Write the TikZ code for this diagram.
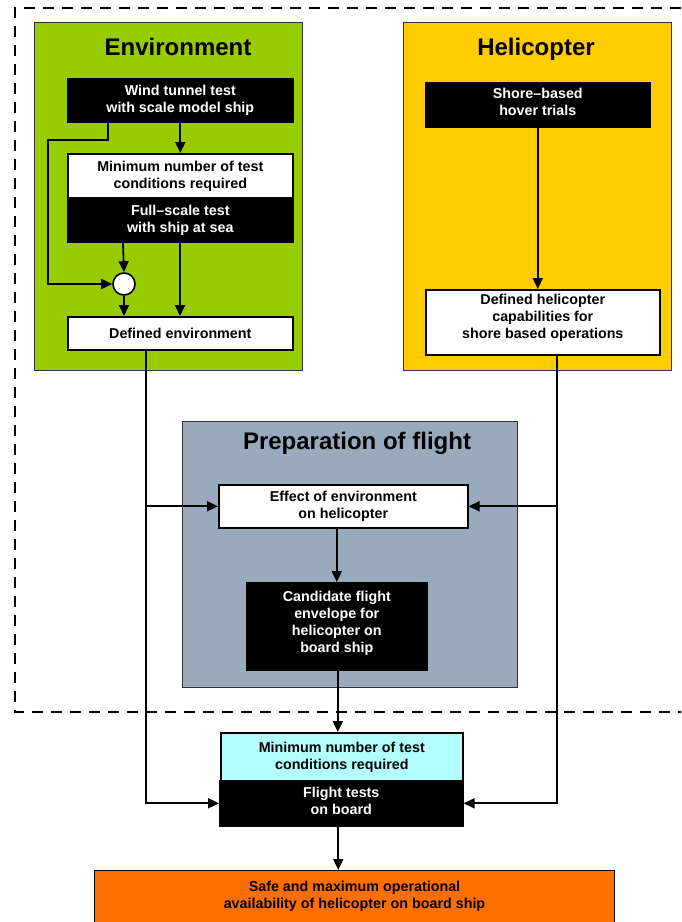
\documentclass[tikz,border=0pt]{standalone}
\usepackage{fontspec}
\setmainfont{Liberation Sans}
\usetikzlibrary{arrows.meta}
\definecolor{envgreen}{HTML}{99CC00}
\definecolor{heliyellow}{HTML}{FFCC00}
\definecolor{prepgray}{HTML}{98AABC}
\definecolor{cyanbox}{HTML}{B3FFFF}
\definecolor{orangebox}{HTML}{FF6F00}
\tikzset{
  area/.style={draw=black!80, line width=0.9pt, anchor=north west, inner sep=0pt},
  areatitle/.style={font=\fontsize{24}{28}\selectfont\bfseries, text=black, inner sep=0pt, anchor=base},
  wbox/.style={draw=black, fill=white, line width=1.6pt, anchor=north west, inner sep=0pt,
    align=center, font=\fontsize{14.3}{17}\selectfont\bfseries, text=black},
  bbox/.style={wbox, fill=black, text=white},
  arr/.style={line width=1.8pt, -{Triangle[length=11pt,width=10pt]}},
  frame/.style={line width=2.8pt, dash pattern=on 11pt off 8pt}
}
\begin{document}
\begin{tikzpicture}[x=1pt,y=-1pt]
\useasboundingbox (0,0) rectangle (681,922);
\clip (0,0) rectangle (681,922);
\fill[white] (0,0) rectangle (681,922);
% dashed frame
\draw[frame] (700,8) -- (15,8) -- (15,712) -- (700,712);
% areas
\node[area, fill=envgreen, minimum width=268pt, minimum height=348pt] (env) at (34,22) {};
\node[areatitle] (envt) at (178,55) {Environment};
\node[area, fill=heliyellow, minimum width=268pt, minimum height=348pt] (heli) at (403,22) {};
\node[areatitle] (helit) at (536,55) {Helicopter};
\node[area, fill=prepgray, minimum width=335pt, minimum height=266pt] (prep) at (182,421) {};
\node[areatitle] (prept) at (357,449) {Preparation of flight};
% environment boxes
\node[bbox, minimum width=225pt, minimum height=43pt] (wind) at (67,78) {Wind tunnel test\\with scale model ship};
\node[wbox, minimum width=225pt, minimum height=44pt] (minA) at (67,153) {Minimum number of test\\conditions required};
\node[bbox, minimum width=225pt, minimum height=44pt] (full) at (67,197) {Full--scale test\\with ship at sea};
\node[draw=black, fill=white, line width=1.6pt, circle, minimum size=22pt, inner sep=0pt] (circ) at (124,284) {};
\node[wbox, minimum width=225pt, minimum height=33pt] (defenv) at (67,316) {Defined environment};
% helicopter boxes
\node[bbox, minimum width=224pt, minimum height=44pt] (shore) at (425,82) {Shore--based\\hover trials\\[-12pt]};
\node[wbox, minimum width=234pt, minimum height=65pt] (defheli) at (425,289) {Defined helicopter\\capabilities for\\shore based operations\\[-5pt]};
% preparation boxes
\node[wbox, minimum width=249pt, minimum height=43pt] (effect) at (218,484) {Effect of environment\\on helicopter};
\node[bbox, minimum width=180pt, minimum height=87pt] (cand) at (246,582) {Candidate flight\\envelope for\\helicopter on\\board ship\\[-9pt]};
% bottom
\node[wbox, fill=cyanbox, minimum width=242pt, minimum height=48pt] (minB) at (220,732) {Minimum number of test\\conditions required};
\node[bbox, minimum width=243pt, minimum height=45pt] (flight) at (219,780) {Flight tests\\on board\\[-13pt]};
\node[wbox, fill=orangebox, line width=1pt, minimum width=520pt, minimum height=56pt] (safe) at (94,870) {Safe and maximum operational\\availability of helicopter on board ship\\[-10pt]};
% connectors environment
\draw[arr] ([xshift=41pt]wind.south west) |- (48,140) |- (circ.west);
\draw[arr] (wind.south) -- (minA.north);
\draw[arr] ([xshift=56pt]full.south west) -- (circ.north);
\draw[arr] (circ.south) -- (circ.south |- defenv.north);
\draw[arr] ([xshift=113pt]full.south west) -- ([xshift=113pt]defenv.north west);
% helicopter
\draw[arr] (shore.south) -- (shore.south |- defheli.north);
% long lines
\coordinate (ld) at ([xshift=79pt]defenv.south west);
\coordinate (rd) at ([xshift=132pt]defheli.south west);
\draw[arr] (ld) |- (flight.west);
\draw[arr] (ld |- effect.west) -- (effect.west);
\draw[arr] (rd) |- (flight.east);
\draw[arr] (rd |- effect.east) -- (effect.east);
% preparation
\draw[arr] (cand.north |- effect.south) -- (cand.north);
\draw[arr] ([xshift=1pt]cand.south) -- ([xshift=1pt]cand.south |- minB.north);
\draw[arr] ([xshift=-3pt]flight.south) -- ([xshift=-3pt]flight.south |- safe.north);
\end{tikzpicture}
\end{document}
